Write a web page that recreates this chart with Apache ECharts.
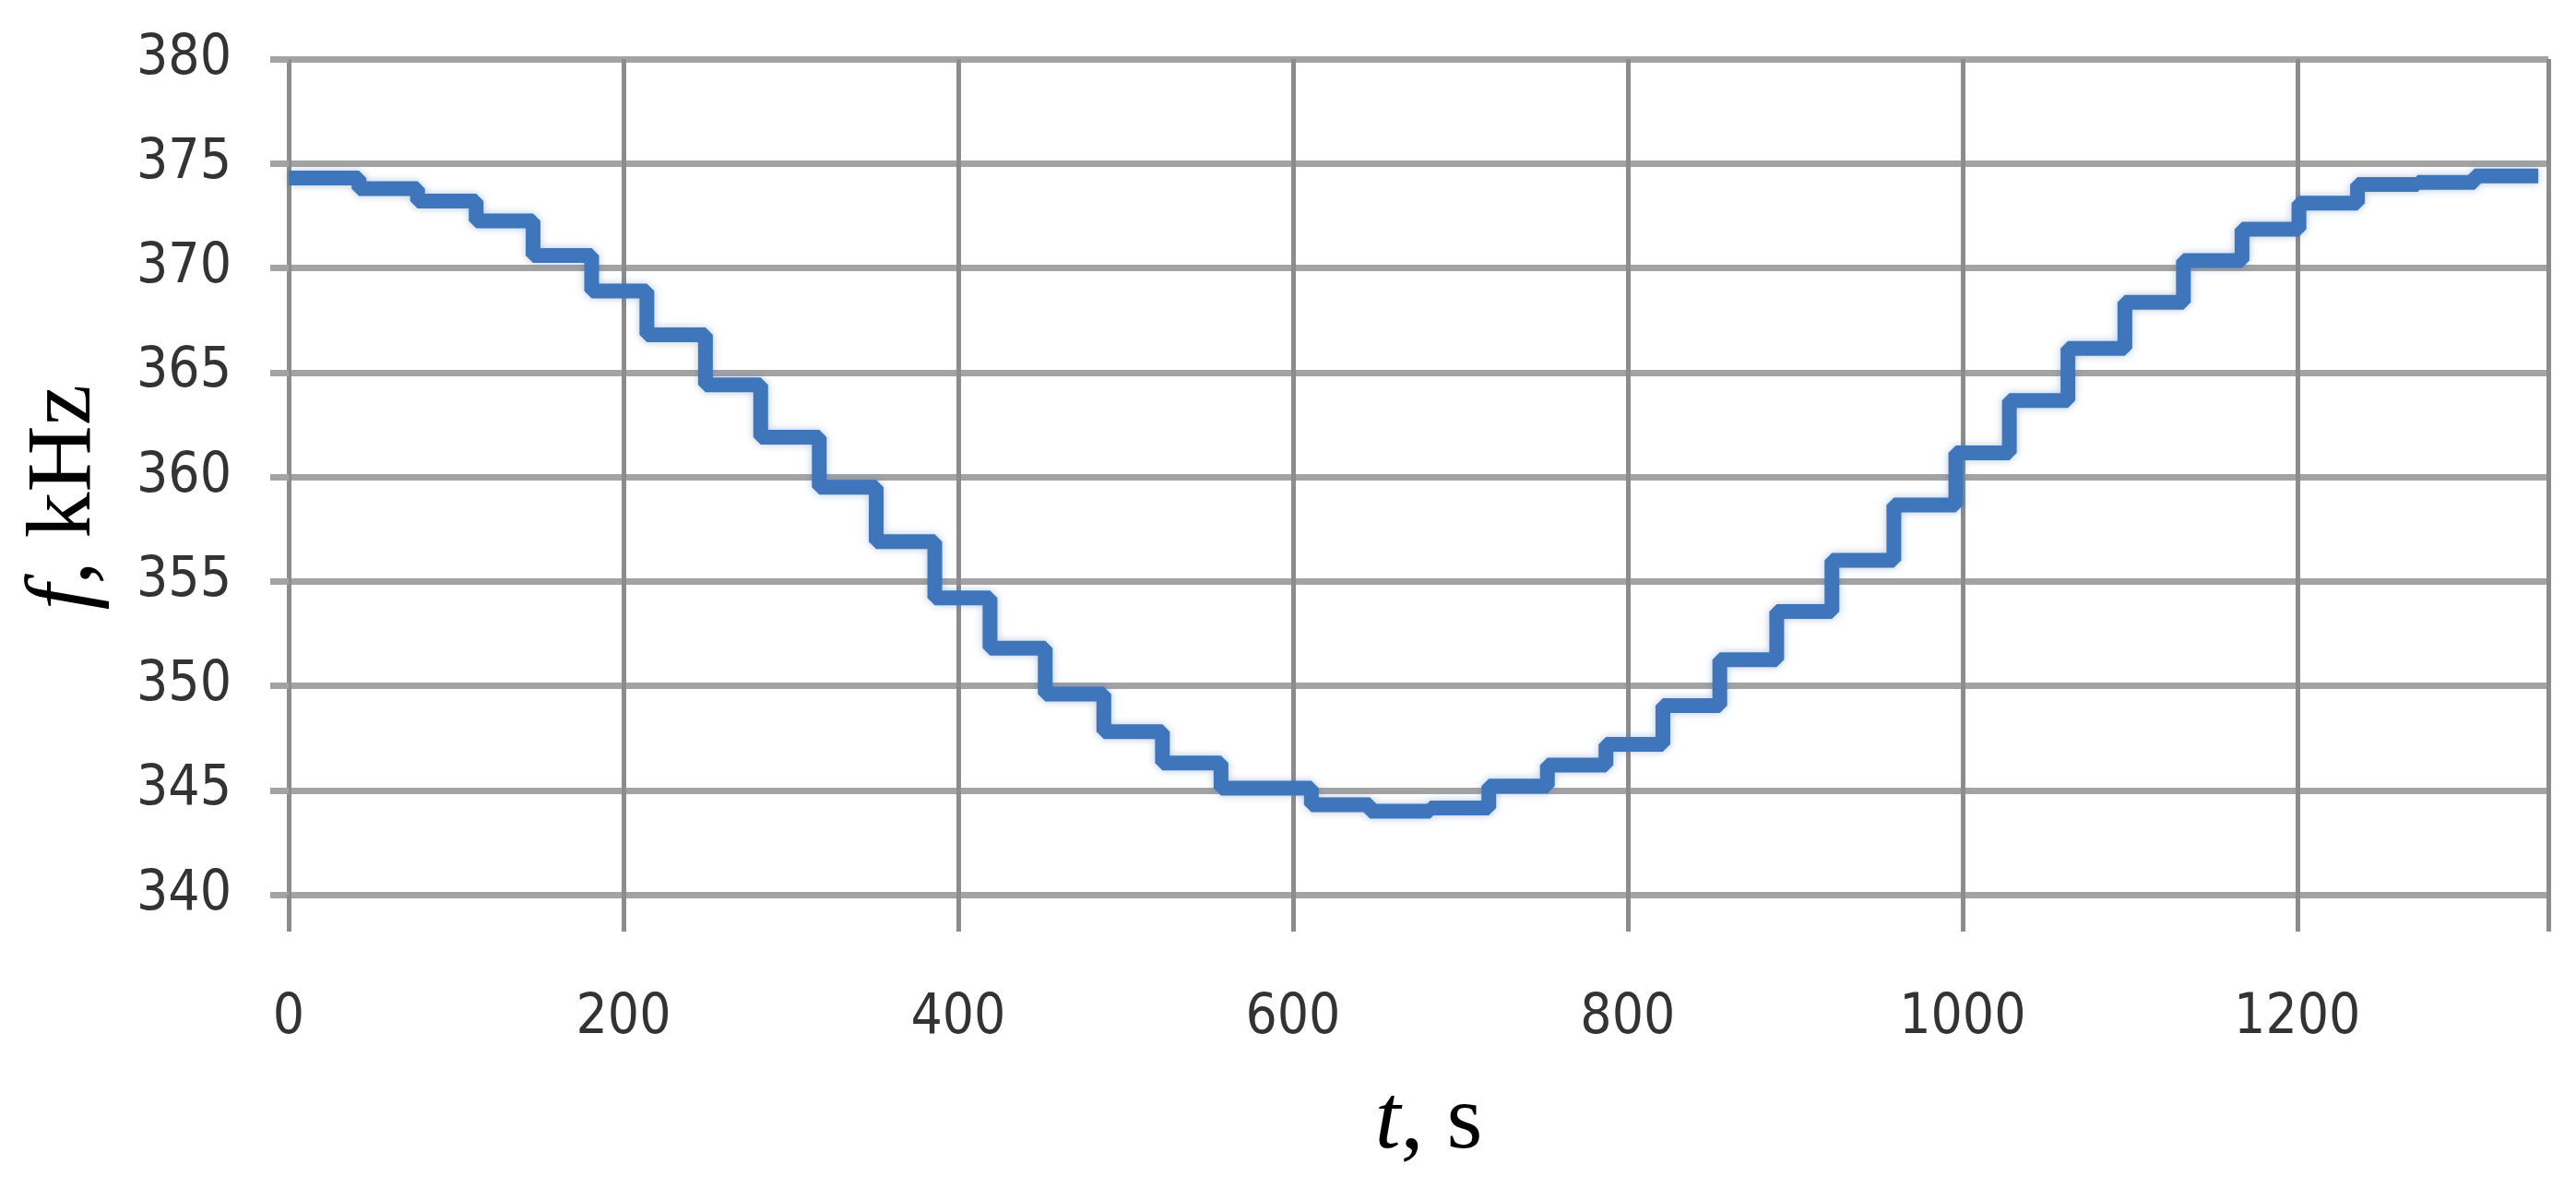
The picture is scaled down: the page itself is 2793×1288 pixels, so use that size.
<!DOCTYPE html>
<html>
<head>
<meta charset="utf-8">
<script src="https://cdn.jsdelivr.net/npm/echarts@6/dist/echarts.min.js"></script>
<style>
html,body{margin:0;padding:0;background:#fff;}
#chart{width:2793px;height:1288px;}
</style>
</head>
<body>
<div id="chart"></div>
<script>
// Step start times (s) and frequency level (kHz)
const stepTimes = [0, 42, 77, 112, 146, 181, 214, 249, 282, 317, 351, 386, 419, 452, 487, 522, 557, 611, 646, 682, 717, 752, 787, 821, 855, 889, 922, 959, 996, 1028, 1063, 1097, 1132, 1167, 1201, 1236, 1272, 1306, 1344];
const freqKHz   = [374.3, 373.8, 373.2, 372.25, 370.6, 368.9, 366.8, 364.4, 361.9, 359.5, 356.9, 354.2, 351.8, 349.6, 347.8, 346.3, 345.1, 344.3, 344.0, 344.15, 345.2, 346.2, 347.2, 349.05, 351.25, 353.55, 356.0, 358.65, 361.15, 363.65, 366.15, 368.35, 370.35, 371.85, 373.1, 374.0, 374.1, 374.4, 374.4];
const xTicks = [0, 200, 400, 600, 800, 1000, 1200];
const yTicks = [340, 345, 350, 355, 360, 365, 370, 375, 380];

const seriesData = stepTimes.map((t, i) => [t, freqKHz[i]]);
const labelFont = "'Liberation Sans Narrow', 'DejaVu Sans Condensed', 'Liberation Sans', sans-serif";

const chart = echarts.init(document.getElementById('chart'), null, {renderer: 'canvas'});
chart.setOption({
  backgroundColor: '#ffffff',
  animation: false,
  grid: {left: 313, right: 30, top: 64, bottom: 318, containLabel: false},
  xAxis: {
    type: 'value',
    min: xTicks[0],
    max: 1350,
    interval: xTicks[1] - xTicks[0],
    axisLine: {show: false},
    axisTick: {show: true, length: 40, lineStyle: {color: '#8c8c8c', width: 5}},
    splitLine: {show: true, lineStyle: {color: '#8c8c8c', width: 5}},
    axisLabel: {
      margin: 104, fontSize: 60, fontFamily: labelFont, color: '#333',
      formatter: v => (xTicks.includes(v) ? String(v) : '')
    },
    name: '{i|t}{r|, s}',
    nameLocation: 'middle',
    nameGap: 198,
    nameTextStyle: {
      padding: [0, 0, 0, 22],
      rich: {
        i: {fontFamily: "'Liberation Serif', serif", fontStyle: 'italic', fontSize: 100, color: '#000'},
        r: {fontFamily: "'Liberation Serif', serif", fontSize: 100, color: '#000'}
      }
    }
  },
  yAxis: {
    type: 'value',
    min: yTicks[0],
    max: yTicks[yTicks.length - 1],
    interval: yTicks[1] - yTicks[0],
    axisLine: {show: false},
    axisTick: {show: true, length: 20, lineStyle: {color: '#a3a3a3', width: 7}},
    splitLine: {show: true, lineStyle: {color: '#a3a3a3', width: 7}},
    axisLabel: {margin: 62, fontSize: 60, fontFamily: labelFont, color: '#333'},
    name: '{i|f}{r|, kHz}',
    nameLocation: 'middle',
    nameRotate: 90,
    nameGap: 192,
    nameTextStyle: {
      padding: [0, 44, 0, 0],
      rich: {
        i: {fontFamily: "'Liberation Serif', serif", fontStyle: 'italic', fontSize: 100, color: '#000'},
        r: {fontFamily: "'Liberation Serif', serif", fontSize: 100, color: '#000'}
      }
    }
  },
  series: [{
    type: 'line',
    step: 'end',
    data: seriesData,
    showSymbol: false,
    lineStyle: {color: '#3f75ba', width: 16, shadowColor: 'rgba(62,116,185,0.4)', shadowBlur: 8},
    itemStyle: {color: '#3f75ba'}
  }]
});
</script>
</body>
</html>
